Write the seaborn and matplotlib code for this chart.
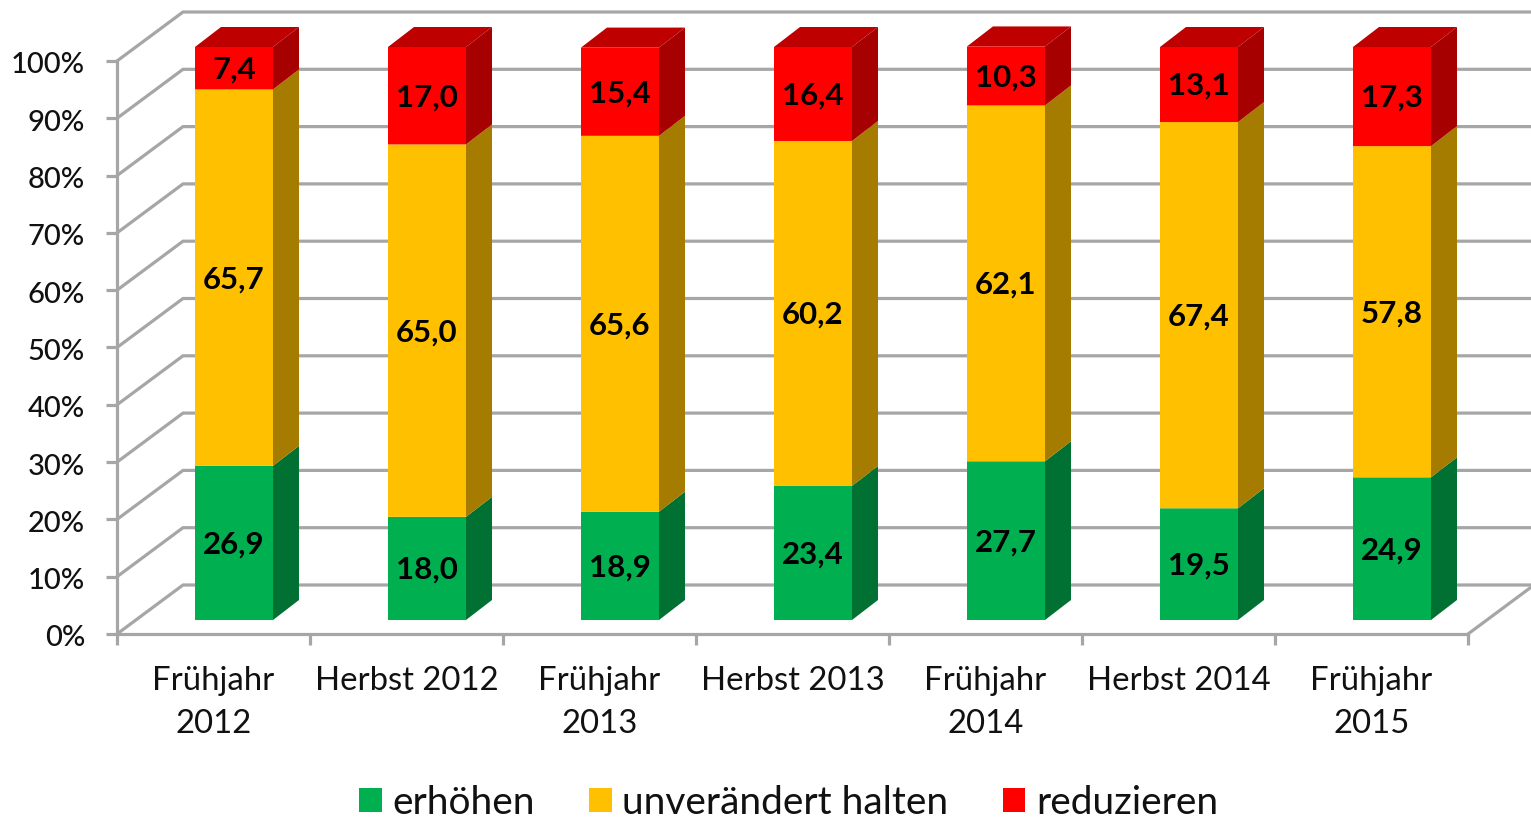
import matplotlib
matplotlib.use("Agg")
import matplotlib.pyplot as plt
import seaborn as sns
import pandas as pd
import numpy as np
from matplotlib.transforms import Affine2D

periods = ["Frühjahr\n2012", "Herbst 2012", "Frühjahr\n2013", "Herbst 2013",
           "Frühjahr\n2014", "Herbst 2014", "Frühjahr\n2015"]
erhoehen = [26.9, 18.0, 18.9, 23.4, 27.7, 19.5, 24.9]
unveraendert = [65.7, 65.0, 65.6, 60.2, 62.1, 67.4, 57.8]
reduzieren = [7.4, 17.0, 15.4, 16.4, 10.3, 13.1, 17.3]
series_names = ["erhöhen", "unverändert halten", "reduzieren"]
y_ticks = list(range(0, 101, 10))

FRONT = ["#00B050", "#FFC000", "#FF0000"]
SIDE = ["#007132", "#A67C00", "#A60000"]
TOP_RED = "#BF0000"
GRID = "#A6A6A6"
TEXT = "#111111"
FONT = "Lato"

sns.set_theme(style="white")
plt.rcParams["font.family"] = [FONT, "DejaVu Sans"]

W, H = 1531, 818
fig = plt.figure(figsize=(W / 100, H / 100), dpi=100)
L, R, B, T = 117, 1468, 634, 61
ax = fig.add_axes([L / W, 1 - B / H, (R - L) / W, (B - T) / H])
ax.patch.set_alpha(0)

PX_X = (R - L) / 7
PX_Y = (B - T) / 100

df = pd.DataFrame({"period": periods, "erhoehen": erhoehen,
                   "unveraendert": unveraendert, "reduzieren": reduzieren})
cols = ["erhoehen", "unveraendert", "reduzieren"]
bottoms = np.vstack([np.zeros(7), np.cumsum(df[cols].values, axis=1)[:, :2].T]).T

# the bars stand right of and above the front plane of the box
bar_shift = ax.transData + Affine2D().translate(20.5, 14)
label_shift = ax.transData + Affine2D().translate(20.5, 12.5)
BAR_W = 78 / PX_X
DX, DY = 26 / PX_X, 20 / PX_Y
WALL_DX, WALL_DY = 66 / PX_X, 49 / PX_Y

for i, col in enumerate(cols):
    sns.barplot(data=df, x="period", y=col, order=periods, bottom=bottoms[:, i],
                color=FRONT[i], saturation=1, width=BAR_W, ax=ax, linewidth=0,
                transform=bar_shift, zorder=5, label=series_names[i], clip_on=False)

handles, labels = ax.get_legend_handles_labels()
if ax.get_legend() is not None:
    ax.get_legend().remove()
for p in ax.patches:
    p.set_snap(False)

ax.set_xlim(-0.5, 6.5)
ax.set_ylim(0, 100)

# right faces and top of each bar
for k in range(7):
    xr = k + BAR_W / 2
    xl = k - BAR_W / 2
    t = 0
    for i, col in enumerate(cols):
        b, t = bottoms[k, i], bottoms[k, i] + df[col].iloc[k]
        ax.fill([xr, xr + DX, xr + DX, xr], [b, b + DY, t + DY, t], color=SIDE[i],
                lw=0, transform=bar_shift, zorder=4, clip_on=False)
        ax.text(k, (b + t) / 2, f"{df[col].iloc[k]:.1f}".replace(".", ","),
                transform=label_shift, ha="center", va="center", fontsize=22.5,
                fontweight="bold", color="black", zorder=7)
    ax.fill([xl, xr, xr + DX, xl + DX], [t, t, t + DY, t + DY], color=TOP_RED,
            lw=0, transform=bar_shift, zorder=4, clip_on=False)

# back wall gridlines, left wall diagonals, floor edge
for v in y_ticks:
    ax.plot([-0.5, -0.5 + WALL_DX, 6.5 + WALL_DX], [v, v + WALL_DY, v + WALL_DY],
            color=GRID, lw=2.3, zorder=1, clip_on=False, solid_joinstyle="miter")
ax.plot([6.5, 6.5 + WALL_DX], [0, WALL_DY], color=GRID, lw=2.3, zorder=1, clip_on=False)

sns.despine(ax=ax, top=True, right=True)
for s in ["left", "bottom"]:
    ax.spines[s].set_color(GRID)
    ax.spines[s].set_linewidth(2.3)
    ax.spines[s].set_zorder(2)

ax.set_yticks(y_ticks)
ax.set_yticklabels([f"{v}%" for v in y_ticks], fontsize=21, color=TEXT, fontweight="medium")
ax.set_xticks(np.arange(7))
ax.set_xticklabels(periods, fontsize=23.7, color=TEXT, linespacing=1.55, va="top")
ax.set_xticks(np.arange(-0.5, 7), minor=True)
ax.tick_params(axis="y", length=8, width=2.3, color=GRID, pad=15, left=True)
ax.tick_params(axis="x", which="major", length=0, pad=23)
ax.tick_params(axis="x", which="minor", length=8, width=2.3, color=GRID, bottom=True)
ax.set_xlabel("")
ax.set_ylabel("")
for lab in ax.get_yticklabels():
    lab.set_transform(lab.get_transform() + Affine2D().translate(0, -2))

fig.legend(handles, labels, loc="center", bbox_to_anchor=(788.5 / W, 1 - 802.5 / H), ncols=3,
           frameon=False, fontsize=28, handlelength=0.59, handleheight=0.59,
           handletextpad=0.27, columnspacing=1.39, labelcolor=TEXT)

fig.savefig("out.png", dpi=100)
